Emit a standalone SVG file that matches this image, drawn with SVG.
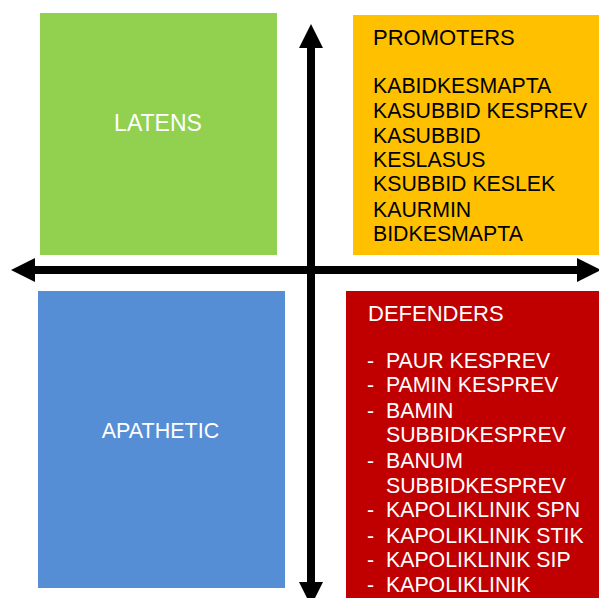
<svg xmlns="http://www.w3.org/2000/svg" width="599" height="598" viewBox="0 0 599 598">
<style>
text{font-family:"Liberation Sans",Arial,sans-serif;}
.w{fill:#ffffff;}
.k{fill:#000000;}
.t{font-size:21.3px;}
.h{font-size:22px;}
.ax{stroke:#000;stroke-width:8;fill:none;}
</style>
<defs>
<marker id="ah" viewBox="0 0 24 24" refX="0" refY="12" markerWidth="24" markerHeight="24" markerUnits="userSpaceOnUse" orient="auto">
<path d="M0,0 L24,12 L0,24 Z" fill="#000"/>
</marker>
</defs>
<rect width="599" height="598" fill="#fff"/>
<g id="latens">
<rect x="40" y="13" width="237" height="242" fill="#92D050"/>
<text class="w" x="158" y="131" font-size="23" text-anchor="middle">LATENS</text>
</g>
<g id="promoters">
<rect x="353" y="15" width="246" height="240" fill="#FFC000"/>
<g class="k t">
<text class="h" x="373" y="45">PROMOTERS</text>
<text x="373" y="93">KABIDKESMAPTA</text>
<text x="373" y="118">KASUBBID KESPREV</text>
<text x="373" y="143">KASUBBID</text>
<text x="373" y="167">KESLASUS</text>
<text x="373" y="191">KSUBBID KESLEK</text>
<text x="373" y="217">KAURMIN</text>
<text x="373" y="241">BIDKESMAPTA</text>
</g>
</g>
<g id="apathetic">
<rect x="38" y="291" width="247" height="297" fill="#558ED5"/>
<text class="w" x="160.5" y="438" font-size="21.5" text-anchor="middle">APATHETIC</text>
</g>
<g id="defenders">
<rect x="346" y="291" width="253" height="307" fill="#C00000"/>
<g class="w t">
<text class="h" x="368" y="321">DEFENDERS</text>
<text x="367" y="368">-</text><text x="386" y="368">PAUR KESPREV</text>
<text x="367" y="392">-</text><text x="386" y="392">PAMIN KESPREV</text>
<text x="367" y="418">-</text><text x="386" y="418">BAMIN</text>
<text x="386" y="442">SUBBIDKESPREV</text>
<text x="367" y="468">-</text><text x="386" y="468">BANUM</text>
<text x="386" y="493">SUBBIDKESPREV</text>
<text x="367" y="517">-</text><text x="386" y="517">KAPOLIKLINIK SPN</text>
<text x="367" y="543">-</text><text x="386" y="543">KAPOLIKLINIK STIK</text>
<text x="367" y="567">-</text><text x="386" y="567">KAPOLIKLINIK SIP</text>
<text x="367" y="592">-</text><text x="386" y="592">KAPOLIKLINIK</text>
</g>
</g>
<g id="connectors">
<line class="ax" x1="311" y1="270" x2="311" y2="48" marker-end="url(#ah)"/>
<line class="ax" x1="311" y1="270" x2="311" y2="582" marker-end="url(#ah)"/>
<line class="ax" x1="311" y1="270" x2="35" y2="270" marker-end="url(#ah)"/>
<line class="ax" x1="311" y1="270" x2="577" y2="270" marker-end="url(#ah)"/>
</g>
</svg>
